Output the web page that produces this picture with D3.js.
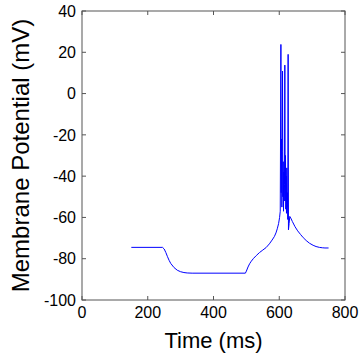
<!DOCTYPE html>
<html>
<head>
<meta charset="utf-8">
<script src="https://cdn.jsdelivr.net/npm/d3@7"></script>
<style>
  body { margin: 0; background: #fff; }
  svg { display: block; }
</style>
</head>
<body>
<svg id="chart" width="360" height="363"></svg>
<script>
// trace: time (ms) and membrane potential (mV)
const timeMs = [150, 245, 250, 255, 260, 265, 270, 280, 290, 300, 310, 320, 335, 497,
  500, 505, 510, 515, 522, 530, 540, 550, 560, 570, 578, 585, 590, 594, 598, 601, 603,
  605, 606, 607, 608, 609, 610, 611, 612, 613, 614, 615, 616, 617, 618, 619, 620, 621,
  622, 623, 624, 625, 626, 627, 628, 630, 632, 635, 640, 648, 656, 665, 673, 682, 692,
  703, 712, 722, 731, 739, 750];
const voltageMv = [-74.5, -74.5, -75.3, -77, -79, -80.8, -82.3, -84.3, -85.6, -86.3, -86.7, -86.9, -87, -87,
  -86, -84, -82.4, -81.2, -79.8, -78.5, -77, -75.8, -74.6, -72.8, -71, -69.3, -67.5, -65.5, -63, -60, -57,
  23.8, -48, -22, -55, -28, 10.9, -50, -33, -57, -38, -52, -44, 13.8, -52, -30, -56, -40,
  -58, -36, -55, -48, -61, 19, -66, -63, -59.5, -60.3, -62, -64.5, -66.5, -68.3, -69.8, -71.2, -72.5,
  -73.5, -74.1, -74.5, -74.7, -74.8, -74.8];

const xTicks = [0, 200, 400, 600, 800];
const yTicks = [-100, -80, -60, -40, -20, 0, 20, 40];

const margin = {top: 11, right: 15, bottom: 63, left: 82};
const width = 360 - margin.left - margin.right;
const height = 363 - margin.top - margin.bottom;

const svg = d3.select("#chart");
const g = svg.append("g").attr("transform", `translate(${margin.left},${margin.top})`);

const x = d3.scaleLinear().domain([0, 800]).range([0, width]);
const y = d3.scaleLinear().domain([-100, 40]).range([height, 0]);

const axisColor = "#555";
const tickLen = 4;

// box
g.append("rect")
  .attr("x", 0).attr("y", 0)
  .attr("width", width).attr("height", height)
  .attr("fill", "none")
  .attr("stroke", axisColor)
  .attr("stroke-width", 1);

// inward ticks on all four sides, MATLAB style
const ticks = g.append("g").attr("stroke", axisColor).attr("stroke-width", 1);
xTicks.forEach(function(d) {
  ticks.append("line").attr("x1", x(d)).attr("x2", x(d)).attr("y1", height).attr("y2", height - tickLen);
  ticks.append("line").attr("x1", x(d)).attr("x2", x(d)).attr("y1", 0).attr("y2", tickLen);
});
yTicks.forEach(function(d) {
  ticks.append("line").attr("x1", 0).attr("x2", tickLen).attr("y1", y(d)).attr("y2", y(d));
  ticks.append("line").attr("x1", width).attr("x2", width - tickLen).attr("y1", y(d)).attr("y2", y(d));
});

const font = "Liberation Sans, Arial, Helvetica, sans-serif";

g.selectAll(".xlab").data(xTicks).enter()
  .append("text")
    .attr("x", d => x(d))
    .attr("y", height + 7)
    .attr("dy", "0.71em")
    .attr("text-anchor", "middle")
    .attr("font-family", font)
    .attr("font-size", 16)
    .attr("fill", "#000")
    .text(d => d);

g.selectAll(".ylab").data(yTicks).enter()
  .append("text")
    .attr("x", -6)
    .attr("y", d => y(d))
    .attr("dy", "0.36em")
    .attr("text-anchor", "end")
    .attr("font-family", font)
    .attr("font-size", 16)
    .attr("fill", "#000")
    .text(d => d);

// trace
const line = d3.line()
  .x((d, i) => x(timeMs[i]))
  .y(d => y(d));

g.append("path")
  .datum(voltageMv)
  .attr("fill", "none")
  .attr("stroke", "#0000ff")
  .attr("stroke-width", 1)
  .attr("d", line);

// axis titles
svg.append("text")
  .attr("x", margin.left + width / 2)
  .attr("y", 348)
  .attr("text-anchor", "middle")
  .attr("font-family", font)
  .attr("font-size", 22)
  .attr("fill", "#000")
  .text("Time (ms)");

svg.append("text")
  .attr("transform", `translate(29,${margin.top + height / 2}) rotate(-90)`)
  .attr("text-anchor", "middle")
  .attr("font-family", font)
  .attr("font-size", 24)
  .attr("fill", "#000")
  .text("Membrane Potential (mV)");
</script>
</body>
</html>
